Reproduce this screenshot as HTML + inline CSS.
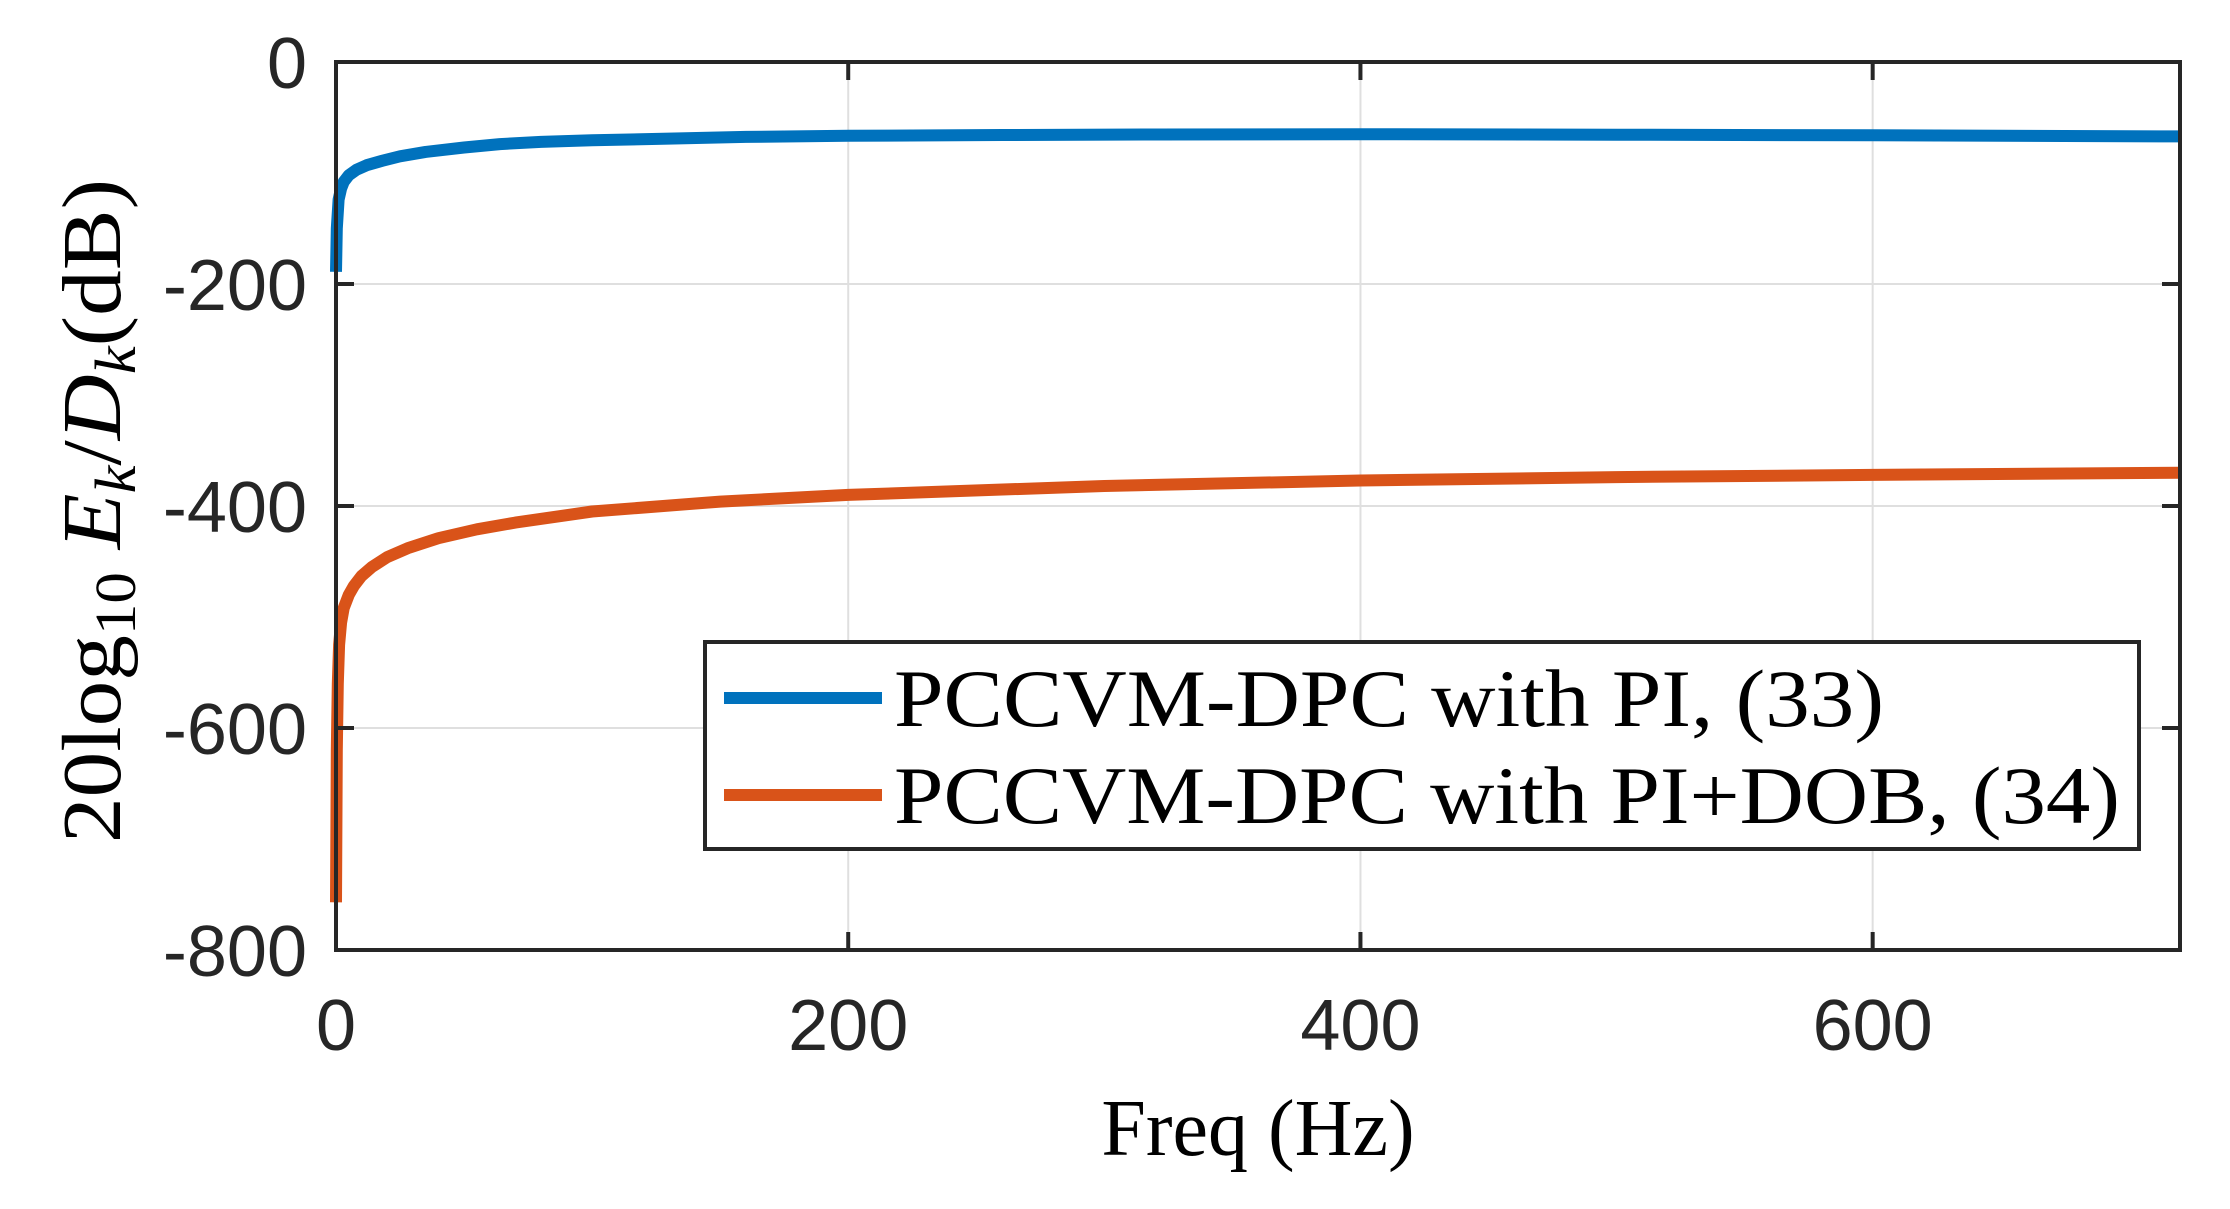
<!DOCTYPE html>
<html><head><meta charset="utf-8"><style>
html,body{margin:0;padding:0;background:#fff;}
svg{display:block;}
</style></head><body>
<svg id="chart" width="2230" height="1209" viewBox="0 0 2230 1209" xmlns="http://www.w3.org/2000/svg">
<rect x="0" y="0" width="2230" height="1209" fill="#fff"/>
<g id="grid"></g>
<g id="series"></g>
<g id="axes"></g>
<g id="legend">
  <rect x="705" y="642" width="1434" height="207" fill="#fff" stroke="#262626" stroke-width="4"/>
  <line x1="724" y1="698" x2="882" y2="698" stroke="#0072BD" stroke-width="12"/>
  <text x="894" y="726" font-family="Liberation Serif, serif" font-size="82" fill="#000" textLength="990" lengthAdjust="spacingAndGlyphs">PCCVM-DPC with PI, (33)</text>
  <line x1="724" y1="795" x2="882" y2="795" stroke="#D95319" stroke-width="12"/>
  <text x="894" y="823" font-family="Liberation Serif, serif" font-size="82" fill="#000" textLength="1226" lengthAdjust="spacingAndGlyphs">PCCVM-DPC with PI+DOB, (34)</text>
</g>
<text x="1258" y="1155" text-anchor="middle" font-family="Liberation Serif, serif" font-size="80" fill="#000">Freq (Hz)</text>
<text transform="translate(120,511) rotate(-90)" text-anchor="middle" font-family="Liberation Serif, serif" font-size="84" fill="#000" textLength="664" lengthAdjust="spacingAndGlyphs">20log<tspan font-size="58" dy="15">10</tspan><tspan dy="-15" font-style="italic"> E</tspan><tspan font-style="italic" font-size="58" dy="15">k</tspan><tspan dy="-15">/</tspan><tspan font-style="italic">D</tspan><tspan font-style="italic" font-size="58" dy="15">k</tspan><tspan dy="-15">(dB)</tspan></text>
</svg>
<script>
const freqPI = [0, 0.3, 1, 2, 3, 5, 8, 12, 18, 25, 35, 50, 64, 80, 100, 130, 160, 200, 260, 320, 400, 500, 600, 720];
const valuesPI = [-189, -150, -124, -114, -108, -102, -97, -93, -89, -85, -81, -77, -74, -72, -70.5, -69, -67.5, -66.5, -65.8, -65.3, -65, -65.5, -66, -67];
const freqDOB = [0, 0.3, 0.7, 1.2, 2, 3, 5, 7, 10, 14, 20, 28, 40, 55, 70, 100, 150, 200, 300, 400, 500, 600, 720];
const valuesDOB = [-757, -620, -560, -525, -505, -492, -480, -472, -463, -455, -446, -438, -429, -421, -415, -405, -396, -390, -382, -377, -374, -372, -370];
const xTicks = [0, 200, 400, 600];
const yTicks = [0, -200, -400, -600, -800];
const xTickLabels = ["0", "200", "400", "600"];
const yTickLabels = ["0", "-200", "-400", "-600", "-800"];
const xMin = 0, xMax = 720, yMin = -800, yMax = 0;

const L = 336, R = 2180, T = 62, B = 950;
const NS = "http://www.w3.org/2000/svg";
function xs(v){ return L + (v - xMin) / (xMax - xMin) * (R - L); }
function ys(v){ return B - (v - yMin) / (yMax - yMin) * (B - T); }
function mk(tag, attrs, parent){
  const e = document.createElementNS(NS, tag);
  for (const k in attrs) e.setAttribute(k, attrs[k]);
  parent.appendChild(e);
  return e;
}
const grid = document.getElementById('grid');
const axes = document.getElementById('axes');
const series = document.getElementById('series');

xTicks.forEach((t, i) => {
  const g = mk('line', {x1: xs(t), x2: xs(t), y1: T, y2: B, stroke: '#dfdfdf', 'stroke-width': 2}, grid);
  
  
  const tk = mk('line', {x1: xs(t), x2: xs(t), y1: B, y2: B - 18, stroke: '#262626', 'stroke-width': 4}, axes);
  
  
  const tk2 = mk('line', {x1: xs(t), x2: xs(t), y1: T, y2: T + 18, stroke: '#262626', 'stroke-width': 4}, axes);
  
  
  const lb = mk('text', {x: xs(t), y: 1050, 'text-anchor': 'middle', 'font-family': 'Liberation Sans, sans-serif', 'font-size': 72, fill: '#262626'}, axes);
  lb.textContent = xTickLabels[i];
  
  
});
yTicks.forEach((t, i) => {
  const g = mk('line', {x1: L, x2: R, y1: ys(t), y2: ys(t), stroke: '#dfdfdf', 'stroke-width': 2}, grid);
  
  
  const tk = mk('line', {x1: L, x2: L + 18, y1: ys(t), y2: ys(t), stroke: '#262626', 'stroke-width': 4}, axes);
  
  
  const tk2 = mk('line', {x1: R, x2: R - 18, y1: ys(t), y2: ys(t), stroke: '#262626', 'stroke-width': 4}, axes);
  
  
  const lb = mk('text', {x: 307, y: ys(t) + 26, 'text-anchor': 'end', 'font-family': 'Liberation Sans, sans-serif', 'font-size': 72, fill: '#262626'}, axes);
  lb.textContent = yTickLabels[i];
  
  
});
const frame = mk('rect', {x: L, y: T, width: R - L, height: B - T, fill: 'none', stroke: '#262626', 'stroke-width': 4}, axes);



function drawLine(fx, fy, color, name){
  const d = fx.map((f, i) => (i ? 'L' : 'M') + xs(f).toFixed(1) + ',' + ys(fy[i]).toFixed(1)).join(' ');
  const p = mk('path', {d: d, fill: 'none', stroke: color, 'stroke-width': 12, 'stroke-linejoin': 'round'}, series);
  
  
}
drawLine(freqDOB, valuesDOB, '#D95319', 'line-pi-dob');
drawLine(freqPI, valuesPI, '#0072BD', 'line-pi');
</script>
</body></html>
